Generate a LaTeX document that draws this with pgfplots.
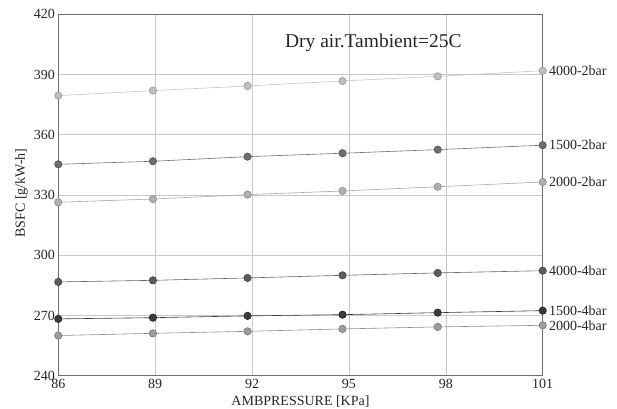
\documentclass[border=0pt]{standalone}
\usepackage{fontspec}
\setmainfont{Liberation Serif}
\usepackage{pgfplots}
\pgfplotsset{compat=1.18}
\definecolor{gridc}{HTML}{C8C8C8}
\definecolor{axisc}{HTML}{6E6E6E}
\definecolor{txtc}{HTML}{262626}
% series colours: line / fill / edge
\definecolor{lA}{HTML}{C4C4C4}\definecolor{fA}{HTML}{BEBEBE}\definecolor{dA}{HTML}{999999}
\definecolor{lB}{HTML}{707070}\definecolor{fB}{HTML}{6E6E6E}\definecolor{dB}{HTML}{555555}
\definecolor{lC}{HTML}{A8A8A8}\definecolor{fC}{HTML}{B0B0B0}\definecolor{dC}{HTML}{8A8A8A}
\definecolor{lD}{HTML}{666666}\definecolor{fD}{HTML}{5C5C5C}\definecolor{dD}{HTML}{444444}
\definecolor{lE}{HTML}{3A3A3A}\definecolor{fE}{HTML}{3C3C3C}\definecolor{dE}{HTML}{222222}
\definecolor{lF}{HTML}{8E8E8E}\definecolor{fF}{HTML}{9C9C9C}\definecolor{dF}{HTML}{777777}
\tikzset{lab/.style={anchor=west, inner sep=0pt, xshift=6pt, font=\fontsize{14}{16}\selectfont, text=txtc}}
\begin{document}
\begin{tikzpicture}
\path[use as bounding box] (0,0) rectangle (617pt,408pt);
\begin{axis}[
  at={(58.3pt,32.3pt)}, anchor=south west,
  scale only axis, width=484.4pt, height=361.4pt,
  xmin=86, xmax=101, ymin=240, ymax=420,
  xtick={86,89,92,95,98,101}, ytick={240,270,300,330,360,390,420},
  grid=major, major grid style={gridc, line width=0.6pt},
  axis line style={axisc, line width=0.8pt},
  major tick length=0pt,
  tick label style={font=\fontsize{14}{16}\selectfont, text=txtc},
  /pgf/number format/assume math mode=true,
  clip=false,
  xlabel={AMBPRESSURE [KPa]},
  ylabel={BSFC [g/kW-h]},
  label style={font=\fontsize{14}{16}\selectfont, text=txtc},
  xlabel style={at={([yshift=-30pt]axis description cs:0.5,0)}, anchor=base},
  ylabel style={at={([xshift=-33.3pt]axis description cs:0,0.505)}, anchor=base},
  every axis plot/.append style={line width=0.6pt, mark=*, mark size=3.7pt},
]
\addplot[color=lA, mark options={fill=fA, draw=dA}] coordinates {
 (86,379.5) (88.93,382.0) (91.86,384.3) (94.8,386.8) (97.75,389.1) (101,391.9)}
 node[lab, pos=1] {4000-2bar};
\addplot[color=lB, mark options={fill=fB, draw=dB}] coordinates {
 (86,345.3) (88.93,346.8) (91.86,349.1) (94.8,350.8) (97.75,352.6) (101,354.8)}
 node[lab, pos=1] {1500-2bar};
\addplot[color=lC, mark options={fill=fC, draw=dC}] coordinates {
 (86,326.4) (88.93,328.0) (91.86,330.2) (94.8,332.0) (97.75,334.1) (101,336.5)}
 node[lab, pos=1] {2000-2bar};
\addplot[color=lD, mark options={fill=fD, draw=dD}] coordinates {
 (86,286.7) (88.93,287.5) (91.86,288.7) (94.8,290.0) (97.75,291.2) (101,292.3)}
 node[lab, pos=1] {4000-4bar};
\addplot[color=lE, mark options={fill=fE, draw=dE}] coordinates {
 (86,268.3) (88.93,268.9) (91.86,269.8) (94.8,270.4) (97.75,271.4) (101,272.4)}
 node[lab, pos=1] {1500-4bar};
\addplot[color=lF, mark options={fill=fF, draw=dF}] coordinates {
 (86,260.0) (88.93,261.1) (91.86,262.1) (94.8,263.3) (97.75,264.3) (101,265.1)}
 node[lab, pos=1] {2000-4bar};
\node[anchor=base, font=\fontsize{19.5}{22}\selectfont, text=txtc] at (axis cs:95.755,403.5) {Dry air.Tambient=25C};
\end{axis}
\end{tikzpicture}
\end{document}
